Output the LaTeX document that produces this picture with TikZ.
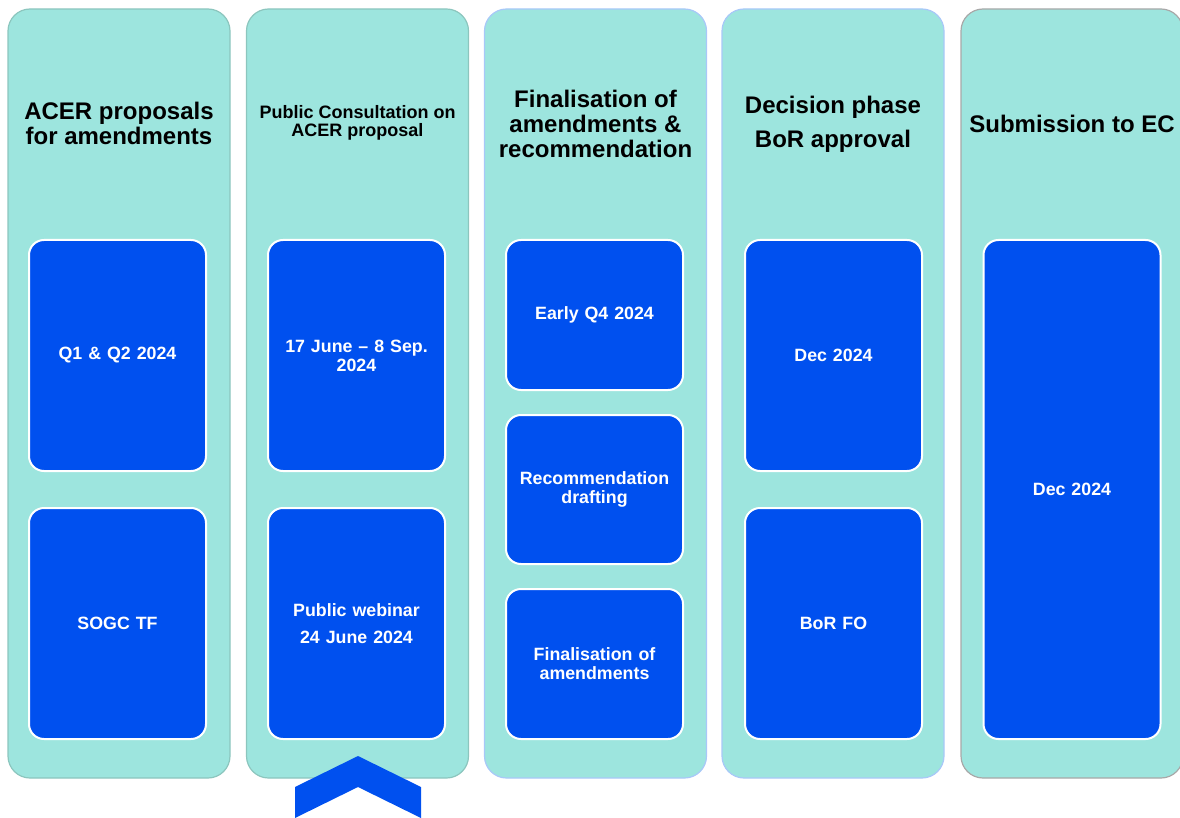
\documentclass[tikz,border=0pt]{standalone}
\usepackage{fontspec}
\setmainfont{Liberation Sans}
\definecolor{colTeal}{HTML}{9DE5DE}
\definecolor{colBlue}{HTML}{0050EF}
\definecolor{bdTeal}{HTML}{8CC6BE}
\definecolor{bdBlue}{HTML}{A8C8F8}
\definecolor{bdGray}{HTML}{A8A8A8}
\begin{document}
\begin{tikzpicture}[x=1pt,y=-1pt,
  column/.style={rounded corners=22pt, fill=colTeal, draw=#1, line width=1.2pt,
    minimum width=222pt, minimum height=769pt, inner sep=0pt},
  box/.style={rounded corners=15pt, fill=colBlue, draw=white, line width=2pt,
    minimum width=177pt, inner sep=0pt, text width=168pt, align=center,
    text=white, font=\bfseries\fontsize{17.8}{19}\selectfont},
  title/.style={text=black, align=center, inner sep=0pt,
    font=\bfseries\fontsize{24}{25}\selectfont}]
\useasboundingbox (0,0) rectangle (1180,818);
\clip (0,0) rectangle (1180,818);
% columns
\node[column=bdTeal] (c1) at (119,393.5) {};
\node[column=bdTeal] (c2) at (357.5,393.5) {};
\node[column=bdBlue] (c3) at (595.5,393.5) {};
\node[column=bdBlue] (c4) at (833,393.5) {};
\node[column=bdGray] (c5) at (1072,393.5) {};
% titles
\node[title] (t1) at (119,123) {ACER proposals\\for amendments};
\node[title, font=\bfseries\fontsize{18}{18.5}\selectfont] (t2) at (357.5,123) {Public Consultation on\\ACER proposal};
\node[title] (t3) at (595.5,124) {Finalisation of\\amendments \&\\recommendation};
\node[title] (t4) at (833,124.5) {Decision phase\\[9pt]BoR approval};
\node[title] (t5) at (1072,124) {Submission to EC};
% chevron
\fill[colBlue] (295,787) -- (358,756) -- (421,787) -- (421,818) -- (358,787) -- (295,818) -- cycle;
% boxes
\node[box, minimum height=231pt] (b11) at (117.5,355.5) {Q1 \& Q2 2024};
\node[box, minimum height=231pt] (b12) at (117.5,623.5) {SOGC TF};
\node[box, minimum height=231pt] (b21) at (356.5,355.5) {17 June – 8 Sep.\\2024};
\node[box, minimum height=231pt] (b22) at (356.5,623.5) {Public webinar\\[8pt]24 June 2024};
\node[box, minimum height=150pt] (b31) at (594.5,315) {Early Q4 2024};
\node[box, minimum height=149pt] (b32) at (594.5,489.5) {Recommendation\\drafting};
\node[box, minimum height=150pt] (b33) at (594.5,664) {Finalisation of\\amendments};
\node[box, minimum height=231pt] (b41) at (833.5,355.5) {Dec 2024};
\node[box, minimum height=231pt] (b42) at (833.5,623.5) {BoR FO};
\node[box, minimum height=499pt] (b51) at (1072,489.5) {Dec 2024};
\end{tikzpicture}
\end{document}
